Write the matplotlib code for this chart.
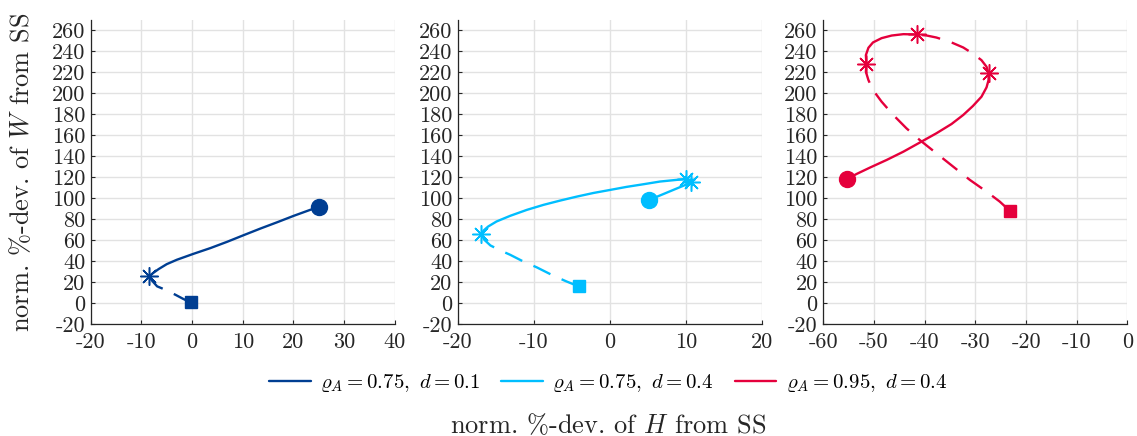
import matplotlib
matplotlib.use("Agg")
import matplotlib.pyplot as plt

plt.rcParams["font.family"] = "serif"
plt.rcParams["font.serif"] = ["cmr10", "DejaVu Serif"]
plt.rcParams["mathtext.fontset"] = "cm"
plt.rcParams["axes.unicode_minus"] = False
plt.rcParams["axes.formatter.use_mathtext"] = True

COLORS = ["#003E92", "#00BEFF", "#E5003C"]
LABELS = [r"$\varrho_A = 0.75,\ d = 0.1$",
          r"$\varrho_A = 0.75,\ d = 0.4$",
          r"$\varrho_A = 0.95,\ d = 0.4$"]

# panel 1: rho_A = 0.75, d = 0.1
p1_solid_x = [25.1, 23.3, 20.05, 16.8, 13.5, 10.2, 6.9, 3.6, 0.3, -3.0, -5.0, -6.6, -7.7, -8.5]
p1_solid_y = [91.4, 88.9, 83.2, 77.1, 71.1, 64.8, 58.4, 52.4, 47.0, 41.3, 37.1, 32.4, 28.6, 25.4]
p1_dash_x = [-8.5, -7.9, -6.9, -5.6, -3.3, -1.7, -0.24]
p1_dash_y = [25.4, 21.3, 15.9, 13.3, 7.9, 3.8, 0.6]
p1_star_x = [-8.5]
p1_star_y = [25.4]

# panel 2: rho_A = 0.75, d = 0.4
p2_solid_x = [5.2, 10.7, 10.0, 8.8, 6.6, 4.4, 2.2, 0.04, -2.15, -4.3, -6.5, -8.7, -10.9, -13.1,
              -14.9, -16.0, -16.6, -16.9]
p2_solid_y = [98.4, 115.0, 118.4, 117.5, 115.9, 113.3, 110.8, 107.9, 105.0, 101.6, 97.8, 93.7,
              88.9, 83.2, 77.8, 73.0, 69.2, 65.7]
p2_dash_x = [-16.9, -16.5, -15.7, -14.4, -13.1, -11.4, -9.6, -7.4, -5.7, -4.1]
p2_dash_y = [65.7, 60.3, 54.9, 50.2, 46.0, 39.7, 34.0, 26.0, 20.6, 15.9]
p2_star_x = [10.7, 10.0, -16.9]
p2_star_y = [115.0, 118.4, 65.7]

# panel 3: rho_A = 0.95, d = 0.4
p3_solid1_x = [-55.4, -53.4, -50.8, -47.5, -44.2, -41.0, -37.7, -34.7, -32.4, -30.5, -28.8,
               -27.8, -27.4, -27.4]
p3_solid1_y = [118.1, 123.2, 129.2, 136.5, 144.4, 153.0, 161.9, 170.8, 179.4, 187.9, 196.8,
               205.7, 212.7, 219.0]
p3_dash1_x = [-27.4, -27.8, -28.8, -30.5, -32.4, -35.0, -37.7, -39.6, -41.6]
p3_dash1_y = [219.0, 225.4, 231.7, 238.0, 243.8, 249.2, 253.3, 255.2, 256.2]
p3_solid2_x = [-41.6, -44.2, -46.5, -48.5, -50.2, -51.1, -51.6, -51.5]
p3_solid2_y = [256.2, 256.5, 255.2, 252.7, 248.6, 243.5, 236.5, 227.6]
p3_dash2_x = [-51.5, -51.6, -51.1, -50.2, -48.5, -46.2, -43.6, -41.0, -37.7, -34.4, -31.1,
              -27.8, -25.2, -23.2]
p3_dash2_y = [227.6, 220.6, 212.7, 203.2, 192.1, 179.4, 166.7, 155.6, 142.9, 130.2, 117.5,
              106.3, 96.8, 87.9]
p3_star_x = [-27.4, -41.6, -51.5]
p3_star_y = [219.0, 256.2, 227.6]

x_ticks = [list(range(-20, 41, 10)), list(range(-20, 21, 10)), list(range(-60, 1, 10))]
y_ticks = list(range(-20, 261, 20))

panels = [
    ([(p1_solid_x, p1_solid_y)], [(p1_dash_x, p1_dash_y)], (p1_star_x, p1_star_y)),
    ([(p2_solid_x, p2_solid_y)], [(p2_dash_x, p2_dash_y)], (p2_star_x, p2_star_y)),
    ([(p3_solid1_x, p3_solid1_y), (p3_solid2_x, p3_solid2_y)],
     [(p3_dash1_x, p3_dash1_y), (p3_dash2_x, p3_dash2_y)], (p3_star_x, p3_star_y)),
]

fig = plt.figure(figsize=(11.37, 4.36), dpi=100)
lefts = [0.0798, 0.4026, 0.7241]
handles = []
for i, (solids, dashes, stars) in enumerate(panels):
    ax = fig.add_axes([lefts[i], 0.2569, 0.2675, 0.6972])
    c = COLORS[i]
    for sx, sy in solids:
        h, = ax.plot(sx, sy, color=c, lw=1.7, solid_capstyle="round", solid_joinstyle="round")
    for dx, dy in dashes:
        ax.plot(dx, dy, color=c, lw=1.7, linestyle=(0, (8, 5.2)))
    ax.plot(stars[0], stars[1], linestyle="none", marker=(8, 2, 0), ms=13, mew=1.1, color=c)
    first = solids[0]
    ax.plot(first[0][0], first[1][0], "o", ms=11.5, color=c)
    last = dashes[-1]
    ax.plot(last[0][-1], last[1][-1], "s", ms=9, color=c)
    handles.append(h)

    ax.set_xlim(x_ticks[i][0], x_ticks[i][-1])
    ax.set_ylim(-20, 270)
    ax.set_xticks(x_ticks[i])
    ax.set_xticklabels([str(t) for t in x_ticks[i]])
    ax.set_yticks(y_ticks)
    ax.set_yticklabels([str(t) for t in y_ticks])
    ax.grid(True, color="#e2e2e2", lw=1.0)
    ax.set_axisbelow(True)
    for s in ["top", "right"]:
        ax.spines[s].set_visible(False)
    for s in ["left", "bottom"]:
        ax.spines[s].set_color("#262626")
        ax.spines[s].set_linewidth(0.9)
    ax.tick_params(direction="in", length=3, width=0.8, colors="#262626", labelsize=16)
    ax.tick_params(axis="x", pad=6)
    ax.tick_params(axis="y", pad=4)

fig.legend(handles, LABELS, loc="center", bbox_to_anchor=(0.535, 0.121), ncol=3,
           frameon=False, fontsize=15, handlelength=2.0, handletextpad=0.45,
           columnspacing=1.0)
fig.text(0.535, 0.025, r"norm. %-dev. of $H$ from SS", ha="center", va="center",
         fontsize=19, color="#262626")
fig.text(0.019, 0.605, r"norm. %-dev. of $W$ from SS", ha="center", va="center",
         rotation=90, fontsize=19, color="#262626")

fig.savefig("out.png", dpi=100)
